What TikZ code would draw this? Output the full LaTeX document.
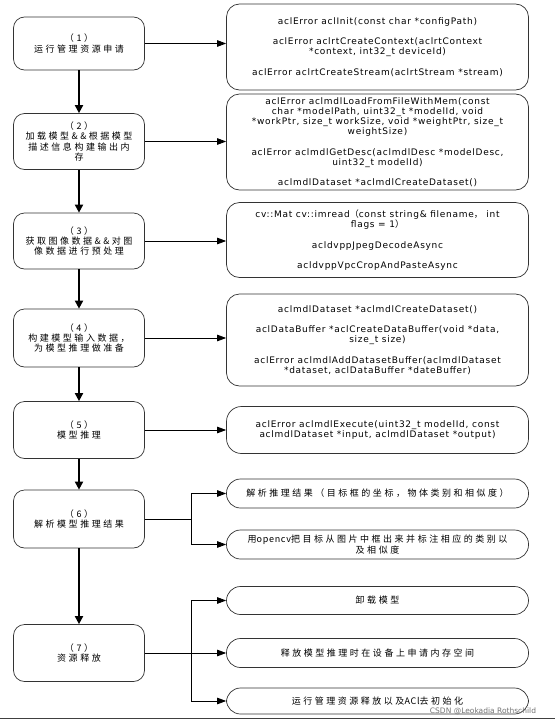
\documentclass[tikz,border=0pt]{standalone}
\usepackage{fontspec}
\setmainfont{DejaVu Sans}[LetterSpace=8]
\newfontfamily\cjk[LetterSpace=28]{Noto Sans CJK SC}
\newfontfamily\plainsans{DejaVu Sans}
\usetikzlibrary{arrows.meta,positioning}

\newcommand{\cjkfont}{\cjk\fontsize{9}{10.4}\selectfont}
\newcommand{\apifont}{\fontsize{9}{10.2}\selectfont}
\newcommand{\tightlatin}[1]{{\addfontfeatures{LetterSpace=8}#1}}

\begin{document}
\begin{tikzpicture}[x=1pt,y=-1pt,
  stage/.style={draw=black!80,line width=0.7pt,rounded corners=11pt,minimum width=131pt,
    minimum height=57pt,align=center,font=\cjkfont,inner sep=2pt},
  api/.style={draw=black!80,line width=0.7pt,rounded corners=13pt,minimum width=302pt,
    align=center,font=\apifont,inner sep=2pt},
  pill/.style={api,rounded corners=14pt,font=\cjkfont,minimum height=29pt},
  flow/.style={-{Triangle[length=8pt,width=8pt]},line width=1.7pt},
  link/.style={-{Triangle[length=9pt,width=6.5pt]},line width=0.8pt}]
  \useasboundingbox (0,0) rectangle (555,720);

  % --- Stages (left column) ---
  \node[stage,minimum height=53pt] (L1) at (79,43.5) {（1）\\运行管理资源申请};
  \node[stage,minimum height=56pt] (L2) at (79,141.5) {（2）\\加载模型\&\&根据模型\\描述信息构建输出内\\存};
  \node[stage,minimum height=56pt] (L3) at (79,241) {（3）\\获取图像数据\&\&对图\\像数据进行预处理};
  \node[stage,minimum height=58pt] (L4) at (79,338) {（4）\\构建模型输入数据，\\为模型推理做准备};
  \node[stage] (L5) at (79,430) {（5）\\模型推理};
  \node[stage,minimum height=58pt] (L6) at (79,519) {（6）\\解析模型推理结果};
  \node[stage] (L7) at (79,653) {（7）\\资源释放};

  % --- API calls (right column) ---
  \node[api,minimum height=86pt] (R1) at (377.5,47)
    {aclError aclInit(const char *configPath)\\[10.2pt]
     aclError aclrtCreateContext(aclrtContext\\ *context, int32\_t deviceId)\\[10.2pt]
     aclError aclrtCreateStream(aclrtStream *stream)};
  \node[api,minimum height=96pt] (R2) at (377.5,142)
    {aclError aclmdlLoadFromFileWithMem(const\\ char *modelPath, uint32\_t *modelId, void\\
     *workPtr, size\_t workSize, void *weightPtr, size\_t\\ weightSize)\\[10.2pt]
     aclError aclmdlGetDesc(aclmdlDesc *modelDesc,\\ uint32\_t modelId)\\[10.2pt]
     aclmdlDataset *aclmdlCreateDataset()};
  \node[api,minimum height=75pt] (R3) at (377.5,240)
    {cv::Mat cv::imread{\cjk （}const string\& filename{\cjk ，} int\\ flags = 1{\cjk ）}\\[10.2pt]
     acldvppJpegDecodeAsync\\[10.2pt]
     acldvppVpcCropAndPasteAsync};
  \node[api,minimum height=92pt] (R4) at (377.5,340)
    {aclmdlDataset *aclmdlCreateDataset()\\[10.2pt]
     aclDataBuffer *aclCreateDataBuffer(void *data,\\ size\_t size)\\[10.2pt]
     aclError aclmdlAddDatasetBuffer(aclmdlDataset\\ *dataset, aclDataBuffer *dateBuffer)};
  \node[api,minimum height=47pt,rounded corners=15pt] (R5) at (377.5,430)
    {aclError aclmdlExecute(uint32\_t modelId, const\\ aclmdlDataset *input, aclmdlDataset *output)};
  \node[pill] (R6a) at (377.5,493.5) {解析推理结果（目标框的坐标，物体类别和相似度）};
  \node[pill] (R6b) at (377.5,544.5) {用\tightlatin{opencv}把目标从图片中框出来并标注相应的类别以\\及相似度};
  \node[pill,minimum height=28pt] (R7a) at (377.5,600.5) {卸载模型};
  \node[pill] (R7b) at (377.5,653) {释放模型推理时在设备上申请内存空间};
  \node[pill,minimum height=26pt] (R7c) at (377.5,701) {运行管理资源释放以及\tightlatin{ACl}去初始化};

  % --- Main flow ---
  \foreach \a/\b in {L1/L2,L2/L3,L3/L4,L4/L5,L5/L6,L6/L7}
    \draw[flow] (\a.south) -- (\b.north);

  % --- Stage to API ---
  \foreach \s in {1,...,5}
    \draw[link] (L\s.east) -- (L\s.east -| R\s.west);

  % --- Branches ---
  \coordinate (J6) at (191,519);
  \coordinate (J7) at (191,653);
  \draw[line width=0.8pt] (L6.east) -- (J6);
  \draw[link] (J6) |- (R6a.west);
  \draw[link] (J6) |- (R6b.west);
  \draw[line width=0.8pt] (L7.east) -- (J7);
  \draw[link] (J7) |- (R7a.west);
  \draw[link] (J7) |- (R7b.west);
  \draw[link] (J7) |- (R7c.west);

  % watermark and frame edge
  \node[text=black!55,font=\plainsans\fontsize{7.5}{8}\selectfont,inner sep=1pt] (mark) at (483,711) {CSDN @Leokadia Rothschild};
  \draw[black!75,line width=1.2pt] (0,718.5) -- (555,718.5);
\end{tikzpicture}
\end{document}
